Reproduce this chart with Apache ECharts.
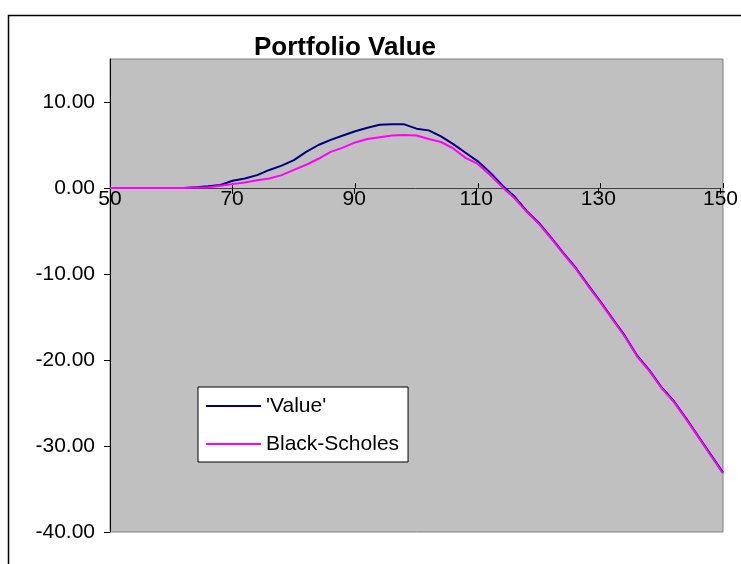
<!DOCTYPE html>
<html>
<head>
<meta charset="utf-8">
<script src="https://cdn.jsdelivr.net/npm/echarts@6/dist/echarts.min.js"></script>
<style>
  html, body { margin: 0; padding: 0; background: #fff; }
  #chart { width: 741px; height: 564px; }
</style>
</head>
<body>
<div id="chart"></div>
<script>
// Underlying price grid
const prices = [50, 52, 54, 56, 58, 60, 62, 64, 66, 68, 70, 72, 74, 76, 78, 80, 82, 84, 86, 88,
  90, 92, 94, 96, 98, 100, 102, 104, 106, 108, 110, 112, 114, 116, 118, 120, 122, 124, 126, 128,
  130, 132, 134, 136, 138, 140, 142, 144, 146, 148, 150];

// Simulated portfolio value
const valueSeries = [0, 0, 0, 0, 0, 0, 0, 0.1, 0.2, 0.35, 0.85, 1.1, 1.5, 2.1, 2.6, 3.25, 4.2, 5.0, 5.6, 6.1,
  6.6, 7.0, 7.35, 7.4, 7.4, 6.9, 6.7, 6.0, 5.1, 4.1, 3.1, 1.8, 0.3, -1.0, -2.7, -4.1, -5.8, -7.6, -9.3, -11.3,
  -13.2, -15.2, -17.2, -19.5, -21.2, -23.2, -24.8, -26.8, -28.9, -31.0, -33.1];

// Black-Scholes portfolio value
const bsSeries = [0, 0, 0, 0, 0, 0, 0, 0.05, 0.1, 0.25, 0.45, 0.65, 0.9, 1.1, 1.5, 2.1, 2.7, 3.4, 4.2, 4.7,
  5.3, 5.7, 5.9, 6.1, 6.15, 6.1, 5.7, 5.35, 4.6, 3.5, 2.8, 1.5, 0.1, -1.2, -2.8, -4.2, -5.9, -7.7, -9.4, -11.4,
  -13.3, -15.3, -17.3, -19.6, -21.3, -23.3, -24.9, -26.9, -29.0, -31.1, -33.2];

// Axis ticks
const xTicks = [50, 70, 90, 110, 130, 150];
const yTicks = [-40, -30, -20, -10, 0, 10];
const yTop = 15;

const FONT = 'Liberation Sans, Arial, sans-serif';
const toPairs = (xs, ys) => xs.map((x, i) => [x, ys[i]]);

const W = 741, H = 564;
const plotRect = { left: 110, top: 59, right: 18, bottom: 32 };
// pixel row of y = 0 inside the plot, where the x axis sits
const plotH = H - plotRect.top - plotRect.bottom;
const zeroY = plotRect.top + plotH * (yTop - 0) / (yTop - yTicks[0]);
// upper band of the plot: its bottom edge is the zero line
const upperRect = { left: plotRect.left, top: plotRect.top, right: plotRect.right, bottom: H - zeroY };

const chart = echarts.init(document.getElementById('chart'), null, { renderer: 'canvas' });

const xRange = {
  type: 'value',
  min: xTicks[0],
  max: xTicks[xTicks.length - 1],
  interval: xTicks[1] - xTicks[0],
  splitLine: { show: false }
};
const yRange = {
  type: 'value',
  min: yTicks[0],
  max: yTop,
  interval: yTicks[1] - yTicks[0],
  splitLine: { show: false }
};

chart.setOption({
  animation: false,
  backgroundColor: '#ffffff',
  title: {
    text: 'Portfolio Value',
    left: 340,
    textAlign: 'center',
    top: 30,
    textStyle: { fontFamily: FONT, fontSize: 26, fontWeight: 'bold', color: '#000' }
  },
  graphic: [{
    type: 'rect',
    shape: { x: 8.5, y: 15.5, width: 800, height: 600 },
    style: { fill: 'none', stroke: '#000', lineWidth: 1.5 },
    silent: true,
    z: 100
  }],
  grid: [
    // plot area holding the curves
    Object.assign({ show: true, backgroundColor: '#c0c0c0', borderColor: '#808080', borderWidth: 1 }, plotRect),
    // zero-line axis: labels and downward ticks
    Object.assign({ show: false }, upperRect),
    // zero-line axis: upward ticks
    Object.assign({ show: false }, upperRect)
  ],
  legend: {
    orient: 'vertical',
    left: 198,
    top: 387,
    padding: [7, 9, 6, 8],
    itemWidth: 55,
    itemHeight: 2,
    itemGap: 14,
    icon: 'rect',
    backgroundColor: '#ffffff',
    borderColor: '#000',
    borderWidth: 1,
    textStyle: { fontFamily: FONT, fontSize: 21, color: '#000', lineHeight: 24 },
    data: ["'Value'", 'Black-Scholes']
  },
  xAxis: [Object.assign({}, xRange, {
    gridIndex: 0,
    show: false
  }), Object.assign({}, xRange, {
    gridIndex: 1,
    position: 'bottom',
    axisLine: { show: true, onZero: false, lineStyle: { color: '#404040', width: 1 } },
    axisTick: { show: true, length: 6, lineStyle: { color: '#000' } },
    axisLabel: { fontFamily: FONT, fontSize: 21, color: '#000', margin: 1 }
  }), Object.assign({}, xRange, {
    gridIndex: 2,
    position: 'bottom',
    axisLine: { show: false, onZero: false },
    axisTick: { show: true, inside: true, length: 5, lineStyle: { color: '#000' } },
    axisLabel: { show: false }
  })],
  yAxis: [Object.assign({}, yRange, {
    gridIndex: 0,
    axisLine: { show: true, onZero: false, lineStyle: { color: '#000', width: 1 } },
    axisTick: { show: true, length: 6, customValues: yTicks, lineStyle: { color: '#000' } },
    axisLabel: {
      fontFamily: FONT, fontSize: 21, color: '#000', margin: 15,
      customValues: yTicks,
      formatter: v => v.toFixed(2)
    }
  }), Object.assign({}, yRange, { gridIndex: 1, min: 0, show: false }),
      Object.assign({}, yRange, { gridIndex: 2, min: 0, show: false })],
  series: [{
    name: "'Value'",
    type: 'line',
    xAxisIndex: 0,
    yAxisIndex: 0,
    data: toPairs(prices, valueSeries),
    symbol: 'none',
    z: 3,
    lineStyle: { color: '#000080', width: 2 },
    itemStyle: { color: '#000080' }
  }, {
    name: 'Black-Scholes',
    type: 'line',
    xAxisIndex: 0,
    yAxisIndex: 0,
    data: toPairs(prices, bsSeries),
    symbol: 'none',
    z: 3,
    lineStyle: { color: '#ff00ff', width: 2 },
    itemStyle: { color: '#ff00ff' }
  }]
});
</script>
</body>
</html>
